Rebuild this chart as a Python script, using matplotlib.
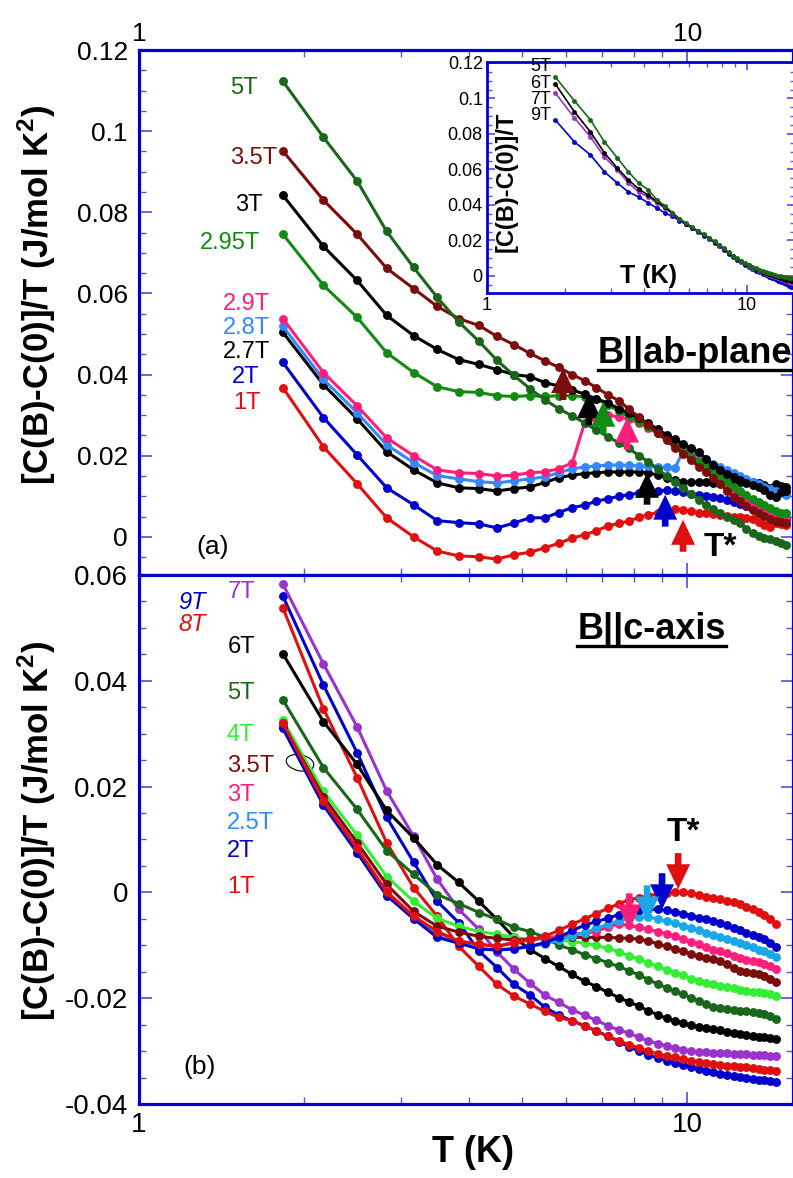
import numpy as np
import matplotlib
matplotlib.use('Agg')
import matplotlib.pyplot as plt
import matplotlib.transforms as mtransforms
from matplotlib.patches import Ellipse
from matplotlib.lines import Line2D
from matplotlib.ticker import LogLocator, MultipleLocator, FuncFormatter, NullFormatter

plt.rcParams['font.family'] = ['Liberation Sans', 'DejaVu Sans']
plt.rcParams['mathtext.fontset'] = 'custom'
plt.rcParams['mathtext.rm'] = 'Liberation Sans'
plt.rcParams['mathtext.bf'] = 'Liberation Sans:bold'

#-----------------------------------
#            data
#-----------------------------------
T = [1.83, 2.17, 2.5, 2.83, 3.17, 3.5, 3.83, 4.17, 4.5, 4.83, 5.17, 5.5, 5.83, 6.17,
     6.5, 6.83, 7.17, 7.5, 7.83, 8.17, 8.5, 8.83, 9.17, 9.5, 9.83, 10.17, 10.5, 10.83,
     11.17, 11.5, 11.83, 12.17, 12.5, 12.83, 13.17, 13.5, 13.83, 14.17, 14.5, 14.83, 15.17]

# (a) B || ab-plane
a_1T = [0.0368, 0.0222, 0.0131, 0.0047, 0.0000, -0.0035, -0.0047, -0.0049, -0.0055, -0.0044,
        -0.0038, -0.0027, -0.0016, -0.0003, 0.0005, 0.0015, 0.0027, 0.0033, 0.0039, 0.0048,
        0.0055, 0.0060, 0.0063, 0.0069, 0.0067, 0.0063, 0.0060, 0.0059, 0.0057, 0.0054,
        0.0051, 0.0049, 0.0048, 0.0047, 0.0043, 0.0037, 0.0030, 0.0025, 0.0034, 0.0032, 0.0030]
a_2T = [0.0430, 0.0294, 0.0202, 0.0121, 0.0079, 0.0040, 0.0035, 0.0032, 0.0022, 0.0034,
        0.0047, 0.0047, 0.0060, 0.0072, 0.0078, 0.0088, 0.0094, 0.0100, 0.0104, 0.0108,
        0.0110, 0.0113, 0.0115, 0.0113, 0.0110, 0.0105, 0.0102, 0.0100, 0.0098, 0.0096,
        0.0090, 0.0085, 0.0080, 0.0075, 0.0068, 0.0060, 0.0055, 0.0051, 0.0048, 0.0045, 0.0043]
a_27T = [0.0504, 0.0375, 0.0291, 0.0210, 0.0165, 0.0133, 0.0121, 0.0119, 0.0113, 0.0119,
         0.0123, 0.0134, 0.0146, 0.0152, 0.0156, 0.0158, 0.0160, 0.0160, 0.0160, 0.0160,
         0.0158, 0.0152, 0.0146, 0.0140, 0.0136, 0.0135, 0.0134, 0.0134, 0.0133, 0.0133,
         0.0134, 0.0135, 0.0136, 0.0137, 0.0135, 0.0133, 0.0128, 0.0120, 0.0130, 0.0126, 0.0122]
a_28T = [0.0519, 0.0388, 0.0306, 0.0227, 0.0183, 0.0151, 0.0143, 0.0136, 0.0133, 0.0138,
         0.0143, 0.0148, 0.0158, 0.0168, 0.0172, 0.0175, 0.0177, 0.0177, 0.0176, 0.0175,
         0.0174, 0.0172, 0.0171, 0.0170, 0.0210, 0.0206, 0.0196, 0.0190, 0.0180, 0.0172,
         0.0165, 0.0158, 0.0150, 0.0143, 0.0136, 0.0130, 0.0124, 0.0118, 0.0112, 0.0108, 0.0104]
a_29T = [0.0538, 0.0405, 0.0323, 0.0244, 0.0200, 0.0165, 0.0158, 0.0156, 0.0150, 0.0152,
         0.0158, 0.0160, 0.0168, 0.0182, 0.0281, 0.0292, 0.0300, 0.0296, 0.0290, 0.0280,
         0.0268, 0.0255, 0.0242, 0.0228, 0.0215, 0.0200, 0.0186, 0.0172, 0.0158, 0.0144,
         0.0128, 0.0114, 0.0102, 0.0092, 0.0082, 0.0074, 0.0068, 0.0062, 0.0058, 0.0052, 0.0050]
a_295T = [0.0746, 0.0620, 0.0541, 0.0454, 0.0405, 0.0370, 0.0358, 0.0356, 0.0348, 0.0346,
          0.0348, 0.0346, 0.0348, 0.0348, 0.0345, 0.0340, 0.0325, 0.0310, 0.0296, 0.0284,
          0.0270, 0.0255, 0.0240, 0.0225, 0.0212, 0.0198, 0.0185, 0.0172, 0.0160, 0.0148,
          0.0136, 0.0124, 0.0114, 0.0104, 0.0094, 0.0086, 0.0078, 0.0070, 0.0064, 0.0060, 0.0058]
a_3T = [0.0842, 0.0716, 0.0632, 0.0546, 0.0496, 0.0462, 0.0437, 0.0425, 0.0412, 0.0400,
        0.0395, 0.0380, 0.0372, 0.0362, 0.0352, 0.0340, 0.0330, 0.0316, 0.0305, 0.0292,
        0.0280, 0.0265, 0.0252, 0.0240, 0.0230, 0.0218, 0.0210, 0.0192, 0.0178, 0.0166,
        0.0156, 0.0147, 0.0140, 0.0133, 0.0128, 0.0123, 0.0115, 0.0104, 0.0098, 0.0110, 0.0112]
a_35T = [0.0951, 0.0830, 0.0746, 0.0662, 0.0612, 0.0568, 0.0538, 0.0521, 0.0494, 0.0474,
         0.0452, 0.0434, 0.0418, 0.0400, 0.0385, 0.0368, 0.0350, 0.0336, 0.0315, 0.0295,
         0.0275, 0.0255, 0.0238, 0.0220, 0.0205, 0.0190, 0.0172, 0.0160, 0.0145, 0.0130,
         0.0112, 0.0098, 0.0088, 0.0075, 0.0066, 0.0058, 0.0052, 0.0045, 0.0040, 0.0037, 0.0035]
a_5T = [0.1123, 0.0985, 0.0877, 0.0753, 0.0664, 0.0590, 0.0530, 0.0482, 0.0435, 0.0398,
        0.0365, 0.0338, 0.0316, 0.0298, 0.0281, 0.0263, 0.0247, 0.0232, 0.0218, 0.0200,
        0.0185, 0.0168, 0.0150, 0.0135, 0.0120, 0.0105, 0.0092, 0.0078, 0.0068, 0.0059,
        0.0050, 0.0041, 0.0033, 0.0020, 0.0010, 0.0002, -0.0003, -0.0006, -0.0010, -0.0015, -0.0019]

# inset, high fields B || ab
i_5T = [0.1121, 0.0986, 0.0879, 0.0755, 0.0665, 0.0586, 0.0524, 0.0485, 0.0430, 0.0395,
        0.0357, 0.0323, 0.0298, 0.0275, 0.0254, 0.0234, 0.0215, 0.0195, 0.0175, 0.0155,
        0.0133, 0.0115, 0.0100, 0.0086, 0.0073, 0.0062, 0.0052, 0.0043, 0.0036, 0.0028,
        0.0020, 0.0014, 0.0010, 0.0006, 0.0002, -0.0002, -0.0005, -0.0007, -0.0009, -0.0011, -0.0013]
i_6T = [0.1082, 0.0924, 0.0811, 0.0693, 0.0608, 0.0541, 0.0490, 0.0455, 0.0420, 0.0388,
        0.0352, 0.0320, 0.0295, 0.0272, 0.0251, 0.0231, 0.0212, 0.0192, 0.0172, 0.0152,
        0.0130, 0.0112, 0.0097, 0.0083, 0.0070, 0.0059, 0.0049, 0.0040, 0.0032, 0.0024,
        0.0016, 0.0010, 0.0005, 0.0000, -0.0005, -0.0010, -0.0015, -0.0020, -0.0025, -0.0030, -0.0035]
i_7T = [0.1031, 0.0890, 0.0783, 0.0670, 0.0597, 0.0524, 0.0473, 0.0445, 0.0411, 0.0382,
        0.0350, 0.0318, 0.0293, 0.0270, 0.0249, 0.0229, 0.0210, 0.0190, 0.0170, 0.0150,
        0.0128, 0.0110, 0.0095, 0.0081, 0.0068, 0.0056, 0.0046, 0.0037, 0.0028, 0.0020,
        0.0012, 0.0006, 0.0000, -0.0005, -0.0010, -0.0016, -0.0021, -0.0027, -0.0033, -0.0040, -0.0046]
i_9T = [0.0879, 0.0755, 0.0682, 0.0586, 0.0524, 0.0473, 0.0445, 0.0411, 0.0383, 0.0355,
        0.0335, 0.0312, 0.0290, 0.0268, 0.0247, 0.0227, 0.0207, 0.0187, 0.0166, 0.0146,
        0.0124, 0.0106, 0.0090, 0.0076, 0.0063, 0.0051, 0.0040, 0.0030, 0.0021, 0.0012,
        0.0004, -0.0004, -0.0011, -0.0019, -0.0026, -0.0034, -0.0041, -0.0048, -0.0055, -0.0062, -0.0068]

# (b) B || c-axis  (measured up to 14.5 K)
b_1T = [0.0321, 0.0172, 0.0083, 0.0000, -0.0045, -0.0074, -0.0092, -0.0098, -0.0102, -0.0096,
        -0.0089, -0.0083, -0.0072, -0.0060, -0.0050, -0.0040, -0.0030, -0.0022, -0.0014, -0.0010,
        -0.0006, -0.0003, -0.0001, 0.0000, 0.0000, -0.0002, -0.0005, -0.0008, -0.0010, -0.0013,
        -0.0016, -0.0019, -0.0022, -0.0027, -0.0032, -0.0037, -0.0043, -0.0050, -0.0060]
b_2T = [0.0310, 0.0165, 0.0075, -0.0006, -0.0050, -0.0085, -0.0096, -0.0107, -0.0109, -0.0107,
        -0.0102, -0.0095, -0.0085, -0.0072, -0.0062, -0.0055, -0.0049, -0.0042, -0.0036, -0.0033,
        -0.0032, -0.0032, -0.0034, -0.0037, -0.0040, -0.0044, -0.0048, -0.0051, -0.0055, -0.0058,
        -0.0062, -0.0067, -0.0071, -0.0076, -0.0081, -0.0085, -0.0089, -0.0095, -0.0104]
b_25T = [0.0313, 0.0168, 0.0077, -0.0004, -0.0047, -0.0083, -0.0094, -0.0106, -0.0108, -0.0106,
         -0.0102, -0.0098, -0.0090, -0.0083, -0.0076, -0.0068, -0.0060, -0.0054, -0.0050, -0.0047,
         -0.0047, -0.0050, -0.0054, -0.0058, -0.0063, -0.0068, -0.0072, -0.0076, -0.0080, -0.0084,
         -0.0088, -0.0092, -0.0096, -0.0100, -0.0104, -0.0108, -0.0111, -0.0116, -0.0123]
b_3T = [0.0320, 0.0172, 0.0083, 0.0002, -0.0045, -0.0075, -0.0092, -0.0098, -0.0102, -0.0094,
        -0.0090, -0.0086, -0.0083, -0.0079, -0.0077, -0.0074, -0.0065, -0.0060, -0.0062, -0.0066,
        -0.0070, -0.0074, -0.0078, -0.0083, -0.0088, -0.0093, -0.0098, -0.0103, -0.0108, -0.0111,
        -0.0115, -0.0120, -0.0124, -0.0128, -0.0130, -0.0132, -0.0135, -0.0140, -0.0145]
b_35T = [0.0318, 0.0181, 0.0094, 0.0015, -0.0036, -0.0064, -0.0075, -0.0083, -0.0087, -0.0090,
         -0.0089, -0.0086, -0.0085, -0.0085, -0.0085, -0.0085, -0.0085, -0.0086, -0.0087, -0.0088,
         -0.0092, -0.0097, -0.0102, -0.0107, -0.0111, -0.0116, -0.0121, -0.0124, -0.0126, -0.0130,
         -0.0136, -0.0142, -0.0148, -0.0151, -0.0153, -0.0155, -0.0158, -0.0163, -0.0170]
b_4T = [0.0325, 0.0191, 0.0108, 0.0030, -0.0017, -0.0049, -0.0064, -0.0074, -0.0079, -0.0085,
        -0.0089, -0.0088, -0.0090, -0.0093, -0.0096, -0.0100, -0.0106, -0.0112, -0.0120, -0.0126,
        -0.0133, -0.0140, -0.0146, -0.0152, -0.0157, -0.0163, -0.0167, -0.0171, -0.0174, -0.0177,
        -0.0179, -0.0181, -0.0184, -0.0186, -0.0188, -0.0189, -0.0190, -0.0193, -0.0196]
b_5T = [0.0364, 0.0236, 0.0157, 0.0079, 0.0034, -0.0004, -0.0021, -0.0038, -0.0051, -0.0066,
        -0.0074, -0.0085, -0.0100, -0.0108, -0.0118, -0.0125, -0.0133, -0.0140, -0.0148, -0.0156,
        -0.0165, -0.0173, -0.0180, -0.0187, -0.0193, -0.0199, -0.0205, -0.0211, -0.0216, -0.0219,
        -0.0220, -0.0222, -0.0224, -0.0225, -0.0226, -0.0228, -0.0230, -0.0233, -0.0240]
b_6T = [0.0451, 0.0323, 0.0242, 0.0155, 0.0103, 0.0052, 0.0019, -0.0017, -0.0051, -0.0085,
        -0.0108, -0.0125, -0.0140, -0.0155, -0.0168, -0.0178, -0.0189, -0.0199, -0.0207, -0.0215,
        -0.0224, -0.0231, -0.0238, -0.0243, -0.0247, -0.0251, -0.0254, -0.0257, -0.0259, -0.0261,
        -0.0263, -0.0265, -0.0267, -0.0269, -0.0271, -0.0273, -0.0274, -0.0276, -0.0277]
b_7T = [0.0583, 0.0432, 0.0313, 0.0192, 0.0106, 0.0025, -0.0032, -0.0070, -0.0113, -0.0145,
        -0.0172, -0.0194, -0.0208, -0.0222, -0.0232, -0.0242, -0.0252, -0.0260, -0.0266, -0.0274,
        -0.0281, -0.0286, -0.0290, -0.0294, -0.0297, -0.0300, -0.0302, -0.0302, -0.0303, -0.0304,
        -0.0304, -0.0305, -0.0306, -0.0306, -0.0307, -0.0308, -0.0308, -0.0309, -0.0310]
b_8T = [0.0538, 0.0347, 0.0217, 0.0094, 0.0009, -0.0045, -0.0102, -0.0140, -0.0174, -0.0196,
        -0.0211, -0.0225, -0.0236, -0.0243, -0.0252, -0.0262, -0.0272, -0.0280, -0.0288, -0.0294,
        -0.0300, -0.0305, -0.0309, -0.0312, -0.0315, -0.0318, -0.0320, -0.0322, -0.0324, -0.0326,
        -0.0328, -0.0329, -0.0330, -0.0331, -0.0332, -0.0334, -0.0335, -0.0336, -0.0338]
b_9T = [0.0560, 0.0392, 0.0264, 0.0142, 0.0057, -0.0017, -0.0057, -0.0111, -0.0142, -0.0174,
        -0.0194, -0.0217, -0.0232, -0.0243, -0.0252, -0.0262, -0.0272, -0.0282, -0.0292, -0.0300,
        -0.0307, -0.0313, -0.0318, -0.0322, -0.0326, -0.0330, -0.0334, -0.0337, -0.0340, -0.0343,
        -0.0345, -0.0347, -0.0349, -0.0351, -0.0352, -0.0354, -0.0355, -0.0356, -0.0358]

# T* arrows: temperature, value at arrow tip
a_arrow_T = [5.94, 6.62, 7.03, 7.77, 8.45, 9.12, 9.83]
a_arrow_v = [0.0416, 0.0354, 0.0333, 0.0294, 0.0158, 0.0104, 0.0042]
b_arrow_T = [9.63, 9.0, 8.45, 7.84]
b_arrow_v = [0.0006, -0.0032, -0.0055, -0.0070]

#-----------------------------------
#            colours / labels
#-----------------------------------
c_red = '#e01010'
c_blue = '#0000cc'
c_black = '#000000'
c_lblue = '#3388ff'
c_sky = '#18a8e8'
c_pink = '#ff1f7a'
c_green = '#138a13'
c_dgreen = '#1a661a'
c_maroon = '#7b0d0d'
c_purple = '#9933cc'
c_lime = '#33ee33'

spine_c = '#0000cc'
tick_c = '#5a5ae0'

a_curves = [a_1T, a_2T, a_27T, a_28T, a_29T, a_295T, a_3T, a_35T, a_5T]
a_colors = [c_red, c_blue, c_black, c_lblue, c_pink, c_green, c_black, c_maroon, c_dgreen]
a_names = ['1T', '2T', '2.7T', '2.8T', '2.9T', '2.95T', '3T', '3.5T', '5T']
a_name_pos = [(1.484, 0.0330), (1.478, 0.0394), (1.423, 0.0456), (1.423, 0.0515), (1.423, 0.0574),
              (1.292, 0.0724), (1.497, 0.0818), (1.466, 0.0934), (1.466, 0.1106)]
a_arrow_c = [c_maroon, c_black, c_green, c_pink, c_black, c_blue, c_red]

i_curves = [i_9T, i_7T, i_6T, i_5T]
i_colors = [c_blue, c_purple, c_black, c_dgreen]
i_names = ['9T', '7T', '6T', '5T']
i_name_pos = [(1.76, 0.0905), (1.76, 0.0992), (1.76, 0.1085), (1.76, 0.1180)]

b_curves = [b_9T, b_8T, b_7T, b_6T, b_5T, b_4T, b_35T, b_3T, b_25T, b_2T, b_1T]
b_colors = [c_blue, c_red, c_purple, c_black, c_dgreen, c_lime, c_maroon, c_pink, c_sky, c_blue, c_red]
b_names = ['9T', '8T', '7T', '6T', '5T', '4T', '3.5T', '3T', '2.5T', '2T', '1T']
b_name_c = [c_blue, c_red, c_purple, c_black, c_dgreen, c_lime, c_maroon, c_pink, c_lblue, c_blue, c_red]
b_name_pos = [(1.178, 0.0548), (1.178, 0.0507), (1.453, 0.0567), (1.453, 0.0463), (1.447, 0.0376),
              (1.447, 0.0297), (1.447, 0.0238), (1.447, 0.0185), (1.447, 0.0132), (1.447, 0.0078),
              (1.447, 0.0011)]
b_arrow_c = [c_red, c_blue, c_sky, c_pink]


def yfmt(v, p):
    s = '%g' % round(v, 6)
    return '0' if s in ('0', '-0') else s


def style(ax, size, lmaj, lmin, sw):
    ax.set_xscale('log')
    for s in ax.spines.values():
        s.set_color(spine_c)
        s.set_linewidth(sw)
    ax.xaxis.set_major_locator(LogLocator(base=10, numticks=5))
    ax.xaxis.set_minor_locator(LogLocator(base=10, subs=np.arange(2, 10), numticks=20))
    ax.xaxis.set_major_formatter(FuncFormatter(lambda v, p: '%g' % v))
    ax.xaxis.set_minor_formatter(NullFormatter())
    ax.yaxis.set_major_locator(MultipleLocator(0.02))
    ax.yaxis.set_minor_locator(MultipleLocator(0.005))
    ax.yaxis.set_major_formatter(FuncFormatter(yfmt))
    ax.tick_params(which='both', direction='in', top=True, right=True, color=tick_c, labelsize=size)
    ax.tick_params(which='major', length=lmaj, width=1.3)
    ax.tick_params(which='minor', length=lmin, width=1.0)


def arrow(ax, x, y, color, L):
    ax.annotate('', xy=(x, y), xytext=(0, L), textcoords='offset points',
                arrowprops=dict(arrowstyle='simple,head_length=1.2,head_width=1.15,tail_width=0.32',
                                mutation_scale=15, fc=color, ec=color, lw=0, shrinkA=0, shrinkB=0))


W, H = 793, 1178
fig = plt.figure(figsize=(W / 100, H / 100), dpi=100)
ax1 = fig.add_axes([139 / W, 1 - 575 / H, 654 / W, 525 / H])
ax2 = fig.add_axes([139 / W, 1 - 1104 / H, 654 / W, 529 / H])
axi = fig.add_axes([487 / W, 1 - 293 / H, 308 / W, 231 / H])

#-----------------------------------
#        (a) B || ab-plane
#-----------------------------------
style(ax1, 19, 9, 5, 2.3)
ax1.tick_params(axis='x', labeltop=True, labelbottom=False, pad=3)
ax1.tick_params(axis='y', pad=8)
for v, c in zip(a_curves, a_colors):
    ax1.plot(T[:len(v)], v, '-o', color=c, lw=2.2, ms=6.4, mec=c, mew=0, clip_on=False)
for name, (x, y), c in zip(a_names, a_name_pos, a_colors):
    ax1.text(x, y, name, color=c, fontsize=17, ha='left', va='center')
for x, y, c in zip(a_arrow_T, a_arrow_v, a_arrow_c):
    arrow(ax1, x, y, c, -23)
ax1.text(11.5, -0.0027, 'T*', fontsize=24, fontweight='bold', ha='center', va='center')
ax1.text(1.365, -0.0025, '(a)', fontsize=19, ha='center', va='center')
t_ab = ax1.text(6.88, 0.0451, 'B||ab-plane', fontsize=26, fontweight='bold', ha='left', va='center')
ax1.set_xlim(1, 15.6)
ax1.set_ylim(-0.0094, 0.12)

#-----------------------------------
#        inset
#-----------------------------------
style(axi, 13, 6, 3.5, 2.0)
axi.tick_params(axis='both', pad=3)
axi.set_facecolor('white')
for v, c in zip(i_curves, i_colors):
    axi.plot(T[:len(v)], v, '-o', color=c, lw=1.2, ms=3.5, mec=c, mew=0)
for name, (x, y) in zip(i_names, i_name_pos):
    axi.text(x, y, name, fontsize=13, ha='right', va='center')
axi.text(0.523, 0.074, 'T (K)', transform=axi.transAxes, fontsize=18, fontweight='bold',
         ha='center', va='center')
axi.text(0.062, 0.48, '[C(B)-C(0)]/T', transform=axi.transAxes, fontsize=17, fontweight='bold',
         rotation=90, ha='center', va='center')
axi.set_xlim(1, 15.3)
axi.set_ylim(-0.0096, 0.1205)

#-----------------------------------
#        (b) B || c-axis
#-----------------------------------
style(ax2, 20, 9, 5, 2.3)
ax2.tick_params(axis='x', pad=6)
ax2.tick_params(axis='y', pad=8)
for v, c in zip(b_curves, b_colors):
    ax2.plot(T[:len(v)], v, '-o', color=c, lw=2.2, ms=6.4, mec=c, mew=0)
for name, (x, y), c in zip(b_names, b_name_pos, b_name_c):
    style_i = 'italic' if name in ('9T', '8T') else 'normal'
    ax2.text(x, y, name, color=c, fontsize=17, ha='left', va='center', fontstyle=style_i)
for x, y, c in zip(b_arrow_T, b_arrow_v, b_arrow_c):
    arrow(ax2, x, y, c, 26)
ax2.text(9.83, 0.0113, 'T*', fontsize=24, fontweight='bold', ha='center', va='center')
ax2.text(1.29, -0.0331, '(b)', fontsize=19, ha='center', va='center')
t_c = ax2.text(6.30, 0.0497, 'B||c-axis', fontsize=26, fontweight='bold', ha='left', va='center')
el = Ellipse((0, 0), width=0.28, height=0.16, angle=-12, fill=False, ec='black', lw=0.8,
             transform=fig.dpi_scale_trans + mtransforms.ScaledTranslation(1.967, 0.0245, ax2.transData))
ax2.add_artist(el)
ax2.set_xlim(1, 15.6)
ax2.set_ylim(-0.04, 0.06)

ylab = '[C(B)-C(0)]/T (J/mol K$^\\mathbf{2}$)'
fig.text(37 / W, 1 - 295 / H, ylab, rotation=90, fontsize=25, fontweight='bold', ha='center', va='center')
fig.text(37 / W, 1 - 831 / H, ylab, rotation=90, fontsize=25, fontweight='bold', ha='center', va='center')
fig.text(473 / W, 1 - 1152 / H, 'T (K)', fontsize=26, fontweight='bold', ha='center', va='center')

# underline of the two field-direction captions
fig.canvas.draw()
r = fig.canvas.get_renderer()
for t in (t_ab, t_c):
    bb = t.get_window_extent(r)
    yl = (bb.y0 + 1) / H
    fig.add_artist(Line2D([bb.x0 / W, bb.x1 / W], [yl, yl], transform=fig.transFigure,
                          color='black', lw=2.4))

fig.savefig('out.png', dpi=100)
